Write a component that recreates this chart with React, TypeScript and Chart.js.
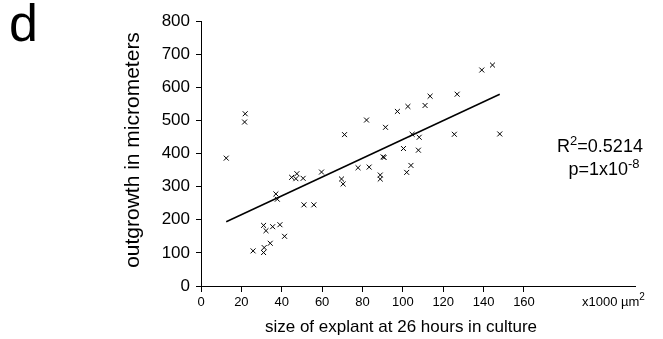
import { useEffect, useRef } from 'react';
import { Chart, registerables } from 'chart.js';

Chart.register(...registerables);

const FONT = '"Liberation Sans", Arial, Helvetica, sans-serif';

// explant size (x1000 µm²)
const explantSize = [
  12.5, 21.6, 21.9, 25.8, 31.0, 31.3, 31.0, 32.2, 34.3, 35.5, 37.1, 37.8, 39.1, 41.4,
  44.9, 47.0, 47.5, 50.6, 51.0, 55.9, 59.7, 69.6, 70.4, 71.1, 77.8, 82.0, 83.3, 88.8,
  88.8, 90.2, 90.7, 91.4, 97.3, 100.3, 101.9, 102.5, 104.0, 104.6, 107.7, 108.1, 111.0,
  113.5, 125.5, 126.9, 139.1, 144.4, 148.0,
];
// outgrowth (micrometers)
const outgrowth = [
  386, 495, 520, 106, 101, 116, 183, 167, 129, 179, 278, 262, 185, 150,
  328, 324, 339, 325, 245, 245, 344, 323, 308, 457, 357, 501, 359, 335,
  323, 390, 388, 479, 527, 415, 343, 542, 364, 458, 410, 449, 545,
  573, 458, 579, 652, 667, 459,
];
// regression line end points
const fitX = [12.5, 148];
const fitY = [194, 579];

const xTickValues = [0, 20, 40, 60, 80, 100, 120, 140, 160];
const yTickValues = [0, 100, 200, 300, 400, 500, 600, 700, 800];

type Part = { text: string; size: number; dy?: number };

function drawRich(ctx: CanvasRenderingContext2D, parts: Part[], x: number, y: number, align: 'left' | 'center' | 'right') {
  ctx.textAlign = 'left';
  ctx.textBaseline = 'alphabetic';
  const widths = parts.map((p) => {
    ctx.font = `${p.size}px ${FONT}`;
    return ctx.measureText(p.text).width;
  });
  const total = widths.reduce((a, b) => a + b, 0);
  let cx = align === 'left' ? x : align === 'center' ? x - total / 2 : x - total;
  parts.forEach((p, i) => {
    ctx.font = `${p.size}px ${FONT}`;
    ctx.fillText(p.text, cx, y + (p.dy || 0));
    cx += widths[i];
  });
}

const textPlugin = {
  id: 'texts',
  afterDraw(chart: any) {
    const ctx: CanvasRenderingContext2D = chart.ctx;
    ctx.save();
    ctx.fillStyle = '#000';
    // panel letter
    ctx.font = `52px ${FONT}`;
    ctx.textAlign = 'left';
    ctx.textBaseline = 'alphabetic';
    ctx.fillText('d', 9, 41);
    // y title
    ctx.save();
    ctx.translate(133, 150);
    ctx.rotate(-Math.PI / 2);
    ctx.font = `21px ${FONT}`;
    ctx.textAlign = 'center';
    ctx.textBaseline = 'middle';
    ctx.fillText('outgrowth in micrometers', 0, 0);
    ctx.restore();
    // x title
    ctx.font = `17px ${FONT}`;
    ctx.textAlign = 'center';
    ctx.textBaseline = 'middle';
    ctx.fillText('size of explant at 26 hours in culture', 401, 327);
    // unit
    drawRich(ctx, [
      { text: 'x1000 ', size: 13 },
      { text: 'µm', size: 13 },
      { text: '2', size: 10, dy: -6 },
    ], 582, 306, 'left');
    // stats
    drawRich(ctx, [
      { text: 'R', size: 18 },
      { text: '2', size: 13, dy: -7 },
      { text: '=0.5214', size: 18 },
    ], 600, 152, 'center');
    drawRich(ctx, [
      { text: 'p=1x10', size: 18 },
      { text: '-8', size: 13, dy: -7 },
    ], 604, 175, 'center');
    ctx.restore();
  },
};

export default function App() {
  const ref = useRef<HTMLCanvasElement | null>(null);
  useEffect(() => {
    if (!ref.current) return;
    const points = explantSize.map((x, i) => ({ x, y: outgrowth[i] }));
    const fit = fitX.map((x, i) => ({ x, y: fitY[i] }));
    const chart = new Chart(ref.current, {
      type: 'scatter',
      data: {
        datasets: [
          {
            data: points,
            pointStyle: 'crossRot',
            pointRadius: 3.5,
            pointBorderWidth: 1,
            borderColor: '#000',
            backgroundColor: '#000',
            showLine: false,
          },
          {
            data: fit,
            showLine: true,
            pointRadius: 0,
            borderColor: '#000',
            borderWidth: 1.5,
          },
        ],
      },
      options: {
        animation: false,
        responsive: false,
        layout: { padding: { top: 21, right: 28, bottom: 0, left: 0 } },
        plugins: { legend: { display: false }, tooltip: { enabled: false } },
        scales: {
          x: {
            type: 'linear',
            min: 0,
            max: 215,
            afterBuildTicks(scale: any) {
              scale.ticks = xTickValues.map((v) => ({ value: v }));
            },
            afterFit(scale: any) {
              scale.height = 53;
            },
            grid: { display: true, drawOnChartArea: false, drawTicks: true, tickLength: 6, color: '#000' },
            border: { display: true, color: '#000', width: 1 },
            ticks: { color: '#000', font: { family: FONT, size: 13 }, padding: 3, maxRotation: 0, autoSkip: false },
          },
          y: {
            type: 'linear',
            min: 0,
            max: 800,
            afterBuildTicks(scale: any) {
              scale.ticks = yTickValues.map((v) => ({ value: v }));
            },
            afterFit(scale: any) {
              scale.width = 201;
            },
            grid: { display: true, drawOnChartArea: false, drawTicks: true, tickLength: 5, color: '#000' },
            border: { display: true, color: '#000', width: 1 },
            ticks: { color: '#000', font: { family: FONT, size: 17 }, padding: 6, autoSkip: false },
          },
        },
      },
      plugins: [textPlugin],
    });
    return () => chart.destroy();
  }, []);
  return (
    <div style={{ position: 'fixed', left: 0, top: 0, width: 663, height: 339, background: '#fff' }}>
      <canvas ref={ref} width={663} height={339} style={{ width: 663, height: 339 }} />
    </div>
  );
}
